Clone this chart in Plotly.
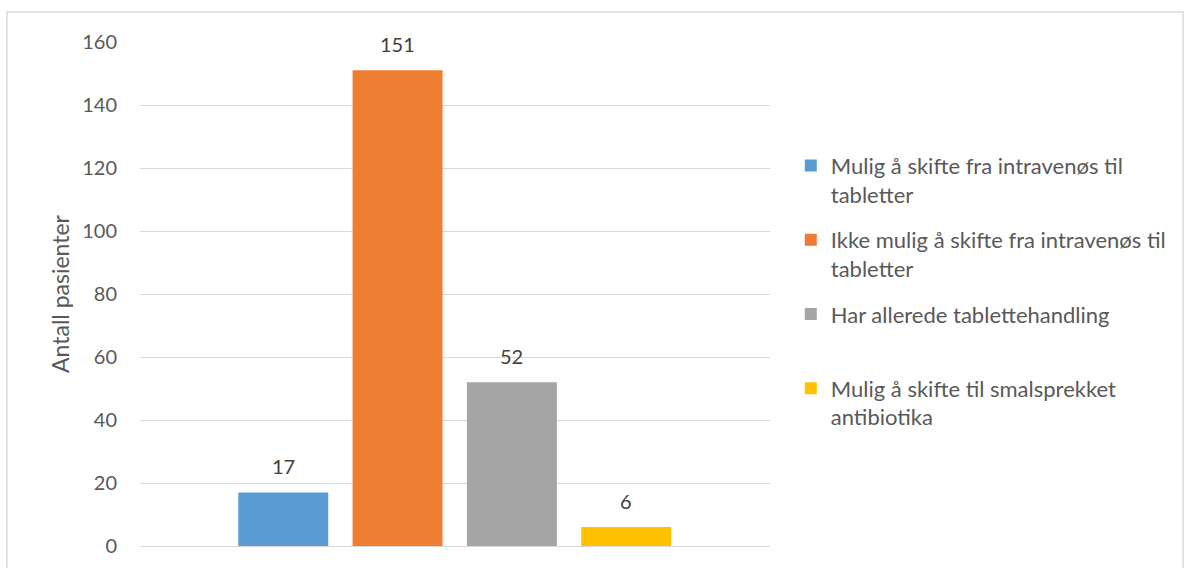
import plotly.graph_objects as go

series_names = [
    "Mulig å skifte fra intravenøs til<br>tabletter",
    "Ikke mulig å skifte fra intravenøs til<br>tabletter",
    "Har allerede tablettehandling<br> ",
    "Mulig å skifte til smalsprekket<br>antibiotika",
]
categories = ["A", "B", "C", "D"]
values = [17, 151, 52, 6]
colors = ["#5B9BD5", "#ED7D31", "#A5A5A5", "#FFC000"]
y_ticks = [0, 20, 40, 60, 80, 100, 120, 140, 160]

FONT = "Lato"

fig = go.Figure()
for name, cat, val, col in zip(series_names, categories, values, colors):
    fig.add_trace(go.Bar(
        x=[cat], y=[val], name=name, marker=dict(color=col, line=dict(width=0)),
        legendgroup=cat, hoverinfo="skip",
    ))
    fig.add_annotation(
        x=cat, y=val, text=str(val), showarrow=False, yanchor="middle",
        yshift=26, font=dict(family=FONT, size=20, color="#404040"),
    )

fig.update_layout(
    width=1190, height=568,
    margin=dict(l=140, r=420, t=42, b=22),
    paper_bgcolor="white", plot_bgcolor="white",
    barmode="overlay", bargap=0.213,
    font=dict(family=FONT, size=20, color="#595959"),
    showlegend=True,
    legend=dict(
        x=1.033, xanchor="left", y=0.796, yanchor="top",
        font=dict(family=FONT, size=22, color="#595959"),
        tracegroupgap=14, valign="top", bgcolor="rgba(0,0,0,0)",
        itemclick=False, itemdoubleclick=False,
    ),
    xaxis=dict(
        type="category", categoryorder="array", categoryarray=categories,
        range=[-1.253, 4.258], showticklabels=False, showgrid=False,
        zeroline=False, showline=False, ticks="",
    ),
    yaxis=dict(
        range=[0, 160], tickvals=y_ticks, ticktext=[str(v) for v in y_ticks],
        showgrid=True, gridcolor="#D9D9D9", gridwidth=1,
        zeroline=True, zerolinecolor="#D9D9D9", zerolinewidth=1,
        showline=False, ticks="", ticklabelstandoff=22,
        tickfont=dict(family=FONT, size=20, color="#595959"),
        title=dict(text="Antall pasienter", standoff=6,
                   font=dict(family=FONT, size=23, color="#595959")),
    ),
    shapes=[dict(
        type="rect", xref="paper", yref="paper",
        x0=-0.2111, x1=1.6556, y0=-0.06, y1=1.0595,
        line=dict(color="#D9D9D9", width=1.5), fillcolor="rgba(0,0,0,0)",
        layer="below",
    )],
)

fig.write_html("out.html")
